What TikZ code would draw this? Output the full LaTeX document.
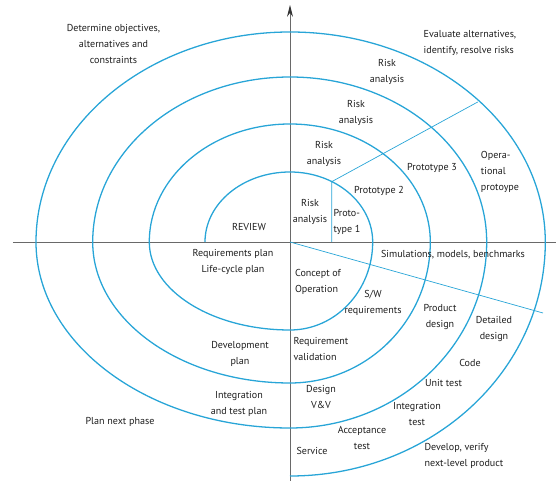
\documentclass[tikz,border=0pt]{standalone}
\usepackage{fontspec}
\setmainfont{PT Sans}
\usetikzlibrary{arrows.meta}
\definecolor{spiralblue}{RGB}{40,165,215}
\definecolor{axisgray}{RGB}{105,105,105}
\definecolor{textgray}{RGB}{30,30,30}
\tikzset{
  spiral/.style={spiralblue, line width=1.1pt},
  radial/.style={spiralblue, line width=0.6pt},
  axis/.style={axisgray, line width=0.8pt},
  lbl/.style={text=textgray, align=center, inner sep=0pt,
    font=\fontsize{8.6}{13.5}\selectfont},
  lbll/.style={lbl, align=left}
}
\begin{document}
\begin{tikzpicture}[x=0.03cm, y=0.03cm]
        \useasboundingbox (-290,-239) rectangle (266,242);
        \draw[axis] (-277,0) -- (266,0);
        \draw[axis,-{Stealth[length=10pt,width=5pt,color=black!80]}] (0,-239) -- (0,237);
        \draw[radial] (41.7,0) -- (41.7,60.3) -- (187.7,140);
        \draw[radial] (0,0) -- (253,-71);
        \draw[spiral] (-85,0)
          arc[start angle=180, end angle=90, x radius=85, y radius=70]
          arc[start angle=90, end angle=0, x radius=82.7, y radius=70]
          arc[start angle=0, end angle=-90, x radius=82.7, y radius=88]
          arc[start angle=-90, end angle=-180, x radius=140.7, y radius=88]
          arc[start angle=180, end angle=90, x radius=140.7, y radius=118]
          arc[start angle=90, end angle=0, x radius=140.3, y radius=118]
          arc[start angle=0, end angle=-90, x radius=140.3, y radius=141]
          arc[start angle=-90, end angle=-180, x radius=197.3, y radius=141]
          arc[start angle=180, end angle=90, x radius=197.3, y radius=165]
          arc[start angle=90, end angle=0, x radius=196.7, y radius=165]
          arc[start angle=0, end angle=-90, x radius=196.7, y radius=186]
          arc[start angle=-90, end angle=-180, x radius=254, y radius=186]
          arc[start angle=180, end angle=90, x radius=254, y radius=210]
          arc[start angle=90, end angle=0, x radius=255.3, y radius=210]
          arc[start angle=0, end angle=-90, x radius=255.3, y radius=234];
        % quadrant headings
        \node[lbl] (objectives) at (-176.5,198) {Determine objectives,\\alternatives and\\constraints};
        \node[lbll] (evaluate) at (180,199) {Evaluate alternatives,\\identify, resolve risks};
        \node[lbl] (planphase) at (-170,-180) {Plan next phase};
        \node[lbll] (develop) at (174,-214) {Develop, verify\\next-level product};
        % upper right
        \node[lbl] (riskd) at (97,170) {Risk\\analysis};
        \node[lbl] (riskc) at (66,129) {Risk\\analysis};
        \node[lbl] (riskb) at (34,88) {Risk\\analysis};
        \node[lbl] (riska) at (20,30) {Risk\\analysis};
        \node[lbll] (protoa) at (57,20) {Proto-\\type 1};
        \node[lbl] (protob) at (89,51) {Prototype 2};
        \node[lbl] (protoc) at (142,74) {Prototype 3};
        \node[lbll] (protod) at (210,70) {Opera-\\tional\\protoype};
        % left
        \node[lbl] (review) at (-41,15) {REVIEW};
        \node[lbl] (reqplan) at (-57,-20) {Requirements plan\\Life-cycle plan};
        \node[lbl] (devplan) at (-50,-112) {Development\\plan};
        \node[lbl] (intplan) at (-51,-162) {Integration\\and test plan};
        % lower right
        \node[lbl] (sims) at (163,-13) {Simulations, models, benchmarks};
        \node[lbll] (concept) at (28,-40) {Concept of\\Operation};
        \node[lbl] (swreq) at (83,-61) {S/W\\requirements};
        \node[lbll] (reqval) at (31,-107) {Requirement\\validation};
        \node[lbl] (proddes) at (150,-75) {Product\\design};
        \node[lbl] (detdes) at (204,-87) {Detailed\\design};
        \node[lbl] (code) at (180,-121) {Code};
        \node[lbl] (unittest) at (153.5,-141) {Unit test};
        \node[lbl] (inttest) at (127,-172) {Integration\\test};
        \node[lbl] (designvv) at (31,-155) {Design\\V\&V};
        \node[lbl] (acctest) at (72,-196) {Acceptance\\test};
        \node[lbl] (service) at (22,-209) {Service};
\end{tikzpicture}
\end{document}
